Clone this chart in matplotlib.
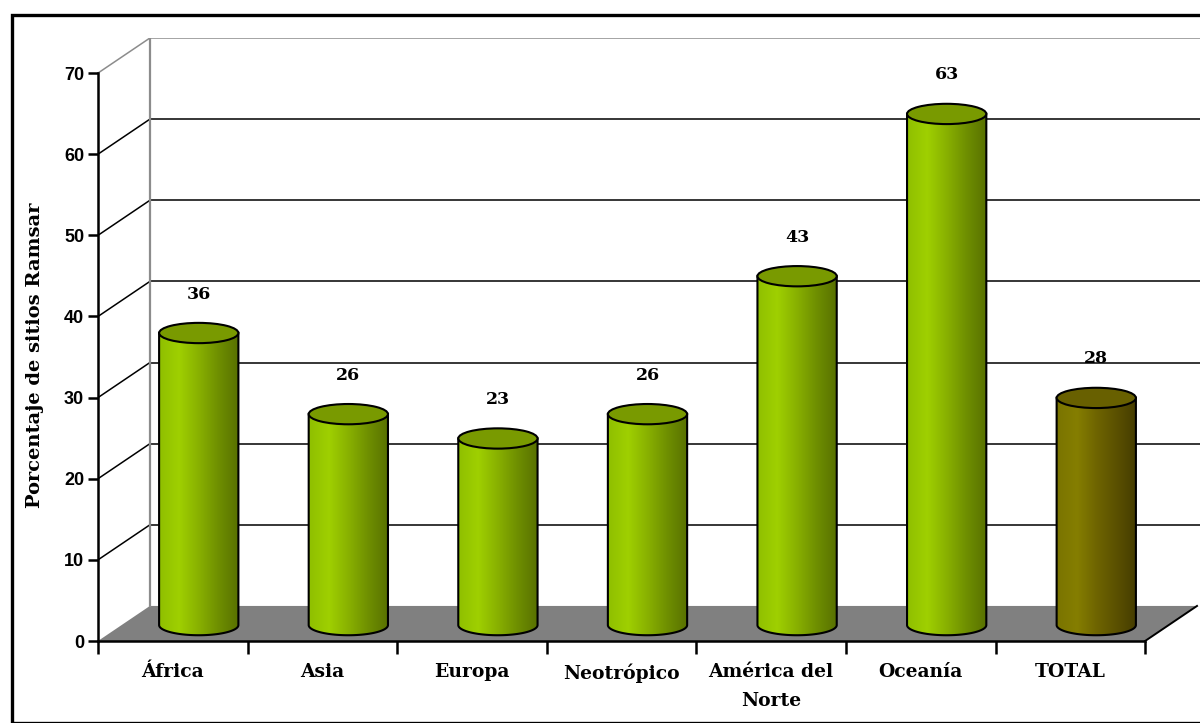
import numpy as np
import matplotlib
matplotlib.use("Agg")
import matplotlib.pyplot as plt
from matplotlib.patches import Polygon, Ellipse, Rectangle, PathPatch
from matplotlib.path import Path
from matplotlib.colors import LinearSegmentedColormap

categories = ["África", "Asia", "Europa", "Neotrópico", "América del\nNorte", "Oceanía", "TOTAL"]
values = [36, 26, 23, 26, 43, 63, 28]
yticks = [0, 10, 20, 30, 40, 50, 60, 70]
ylabel = "Porcentaje de sitios Ramsar"

W, H = 1200, 723
fig = plt.figure(figsize=(W / 100, H / 100), dpi=100)
fig.patch.set_facecolor("white")

# outer frame
fig.add_artist(Rectangle((12 / W, 0), 1.2, (H - 15) / H, transform=fig.transFigure,
                         fill=False, edgecolor="black", linewidth=2.4))

DX, DY = 0.347, 4.32          # depth offset (data units)
left_px, right_px = 98, 1200
bot_px, top_px = 641, 38
ax = fig.add_axes([left_px / W, (H - bot_px) / H, (right_px - left_px) / W, (bot_px - top_px) / H])
XMAX = 7 + DX + 0.02
YMAX = 70 + DY
ax.set_facecolor("none")

# floor
ax.add_patch(Polygon([(0, 0), (7, 0), (7 + DX, DY), (DX, DY)], closed=True,
                     facecolor="#808080", edgecolor="none", zorder=1))
ax.plot([7, 7 + DX], [0, DY], color="black", lw=1.4, zorder=2)

# back wall gridlines and left wall lines
for v in yticks[1:]:
    c = "#8c8c8c" if v == 70 else "black"
    ax.plot([DX, XMAX + 1], [v + DY, v + DY], color=c, lw=1.1, zorder=1)
    ax.plot([0, DX], [v, v + DY], color=c, lw=1.1, zorder=1)
ax.plot([DX, DX], [DY, 70 + DY], color="#8c8c8c", lw=1.6, zorder=1)

# cylinders
green = LinearSegmentedColormap.from_list("g", ["#8fbf00", "#9fd000", "#88b000", "#6e8e00", "#587000"])
olive = LinearSegmentedColormap.from_list("o", ["#7a7400", "#857e00", "#6e6400", "#5a5000", "#453c00"])
grad = np.linspace(0, 1, 256).reshape(1, -1)
bw = 0.53
eh = 2.5
mid_x, mid_y = DX / 2, DY / 2 - 0.2
for i, v in enumerate(values):
    cx = i + 0.5 + mid_x
    x0, x1 = cx - bw / 2, cx + bw / 2
    yb, yt = mid_y, v + mid_y
    is_total = categories[i] == "TOTAL"
    cmap = olive if is_total else green
    topc = "#686000" if is_total else "#799a00"
    t = np.linspace(np.pi, 2 * np.pi, 60)
    arc = np.column_stack([cx + bw / 2 * np.cos(t), yb + eh / 2 * np.sin(t)])
    verts = np.vstack([[x0, yt], arc, [x1, yt], [x0, yt]])
    path = Path(verts, closed=True)
    body = PathPatch(path, facecolor="none", edgecolor="black", lw=1.5, zorder=4)
    ax.add_patch(body)
    im = ax.imshow(grad, cmap=cmap, aspect="auto", extent=[x0, x1, yb - eh, yt],
                   interpolation="bilinear", zorder=3)
    im.set_clip_path(body)
    ax.add_patch(Ellipse((cx, yt), bw, eh, facecolor=topc, edgecolor="black", lw=1.5, zorder=5))
    ax.text(cx, yt + 4.8, str(v), ha="center", va="center", fontsize=12.5,
            fontweight="bold", family="DejaVu Serif", zorder=6)

ax.set_xlim(0, XMAX)
ax.set_ylim(0, YMAX)

# front axes via spines
for s in ["top", "right"]:
    ax.spines[s].set_visible(False)
ax.spines["left"].set_bounds(0, 70)
ax.spines["bottom"].set_bounds(0, 7)
ax.spines["left"].set_linewidth(1.8)
ax.spines["bottom"].set_linewidth(1.8)
ax.spines["left"].set_zorder(7)
ax.spines["bottom"].set_zorder(7)
ax.set_yticks(yticks)
ax.set_yticklabels([str(v) for v in yticks], fontsize=13, fontweight="bold", family="Liberation Sans")
ax.tick_params(axis="y", direction="out", length=7, width=1.8, pad=3)
ax.set_xticks(range(8))
ax.set_xticklabels([])
ax.tick_params(axis="x", which="major", direction="out", length=9, width=1.8)
ax.set_xticks([i + 0.5 for i in range(7)], minor=True)
ax.set_xticklabels(categories, minor=True, fontsize=13.5, fontweight="bold",
                   family="DejaVu Serif", linespacing=1.75, va="top")
ax.tick_params(axis="x", which="minor", length=0, pad=16)

fig.text(35 / W, 1 - 355 / H, ylabel, rotation=90, ha="center", va="center",
         fontsize=14, fontweight="bold", family="DejaVu Serif")

fig.savefig("out.png", dpi=100, facecolor="white")
